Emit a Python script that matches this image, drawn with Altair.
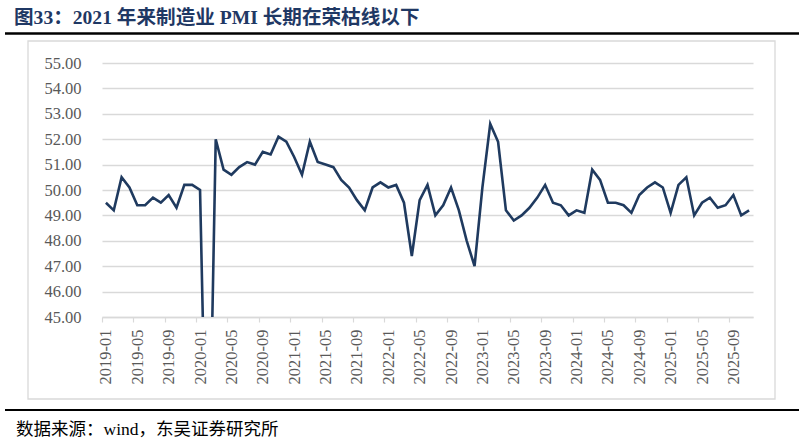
import altair as alt
import pandas as pd

# ---- data ----
months = [f"{y}-{m:02d}" for y in range(2019, 2026) for m in range(1, 13)][:83]
pmi = [
    49.5, 49.2, 50.5, 50.1, 49.4, 49.4, 49.7, 49.5, 49.8, 49.3, 50.2, 50.2,  # 2019
    50.0, 35.7, 52.0, 50.8, 50.6, 50.9, 51.1, 51.0, 51.5, 51.4, 52.1, 51.9,  # 2020
    51.3, 50.6, 51.9, 51.1, 51.0, 50.9, 50.4, 50.1, 49.6, 49.2, 50.1, 50.3,  # 2021
    50.1, 50.2, 49.5, 47.4, 49.6, 50.2, 49.0, 49.4, 50.1, 49.2, 48.0, 47.0,  # 2022
    50.1, 52.6, 51.9, 49.2, 48.8, 49.0, 49.3, 49.7, 50.2, 49.5, 49.4, 49.0,  # 2023
    49.2, 49.1, 50.8, 50.4, 49.5, 49.5, 49.4, 49.1, 49.8, 50.1, 50.3, 50.1,  # 2024
    49.1, 50.2, 50.5, 49.0, 49.5, 49.7, 49.3, 49.4, 49.8, 49.0, 49.2,        # 2025
]
y_ticks = [45, 46, 47, 48, 49, 50, 51, 52, 53, 54, 55]
title_text = "图33：2021 年来制造业 PMI 长期在荣枯线以下"
source_text = "数据来源：wind，东吴证券研究所"

df = pd.DataFrame({"i": list(range(len(months))), "month": months, "pmi": pmi})

W, H = 651, 254
LEFT, TOP = 102, 63
band = W / len(months)

GRID = "#d9d9d9"
LABEL = "#595959"
SERIF = "Liberation Serif, 'Noto Sans CJK SC'"

label_expr = "[" + ",".join(f"'{m}'" for m in months) + "][datum.value]"

x_scale = alt.Scale(domain=[-0.5, len(months) - 0.5], nice=False, zero=False)
y_scale = alt.Scale(domain=[45, 55], nice=False, zero=False)

line = alt.Chart(df).mark_line(color="#1F3A5F", strokeWidth=2.6, clip=True).encode(
    x=alt.X(
        "i:Q",
        scale=x_scale,
        title=None,
        axis=alt.Axis(
            values=list(range(0, len(months), 4)),
            labelExpr=label_expr,
            labelAngle=-90,
            tickOffset=-band / 2,
            labelOffset=band / 2,
            tickSize=5,
            tickColor=GRID,
            tickWidth=1.2,
            domainColor=GRID,
            domainWidth=1.5,
            grid=False,
            labelFont="Liberation Serif",
            labelFontSize=16.5,
            labelColor=LABEL,
            labelPadding=7,
        ),
    ),
    y=alt.Y(
        "pmi:Q",
        scale=y_scale,
        title=None,
        axis=alt.Axis(
            values=y_ticks,
            format=".2f",
            domain=False,
            ticks=False,
            grid=True,
            gridColor=GRID,
            gridWidth=1.5,
            labelFont="Liberation Serif",
            labelFontSize=16.5,
            labelColor=LABEL,
            labelPadding=21,
        ),
    ),
)

one = alt.Data(values=[{}])

frame = alt.Chart(one).mark_rect(fillOpacity=0, stroke=GRID, strokeWidth=1.3).encode(
    x=alt.value(28 - LEFT), x2=alt.value(775 - LEFT),
    y=alt.value(41 - TOP), y2=alt.value(399 - TOP),
)

top_rule = alt.Chart(one).mark_rule(color="black", strokeWidth=2.5).encode(
    x=alt.value(5 - LEFT), x2=alt.value(799 - LEFT), y=alt.value(33.5 - TOP)
)
bottom_rule = alt.Chart(one).mark_rule(color="black", strokeWidth=2).encode(
    x=alt.value(5 - LEFT), x2=alt.value(799 - LEFT), y=alt.value(410 - TOP)
)

title = alt.Chart(one).mark_text(
    align="left", baseline="alphabetic", font=SERIF, fontSize=19.6,
    fontWeight="bold", color="#1F3864",
).encode(x=alt.value(14 - LEFT), y=alt.value(24 - TOP), text=alt.value(title_text))

source = alt.Chart(one).mark_text(
    align="left", baseline="alphabetic", font=SERIF, fontSize=17.5, color="black",
).encode(x=alt.value(16 - LEFT), y=alt.value(435 - TOP), text=alt.value(source_text))

chart = alt.layer(frame, line, top_rule, bottom_rule, title, source).properties(
    width=W,
    height=H,
    autosize=alt.AutoSizeParams(type="none"),
    padding={"left": LEFT, "top": TOP, "right": 805 - LEFT - W, "bottom": 444 - TOP - H},
    background="white",
).configure_view(strokeWidth=0)

chart.save("out.html", embed_options={"renderer": "svg", "actions": False})
